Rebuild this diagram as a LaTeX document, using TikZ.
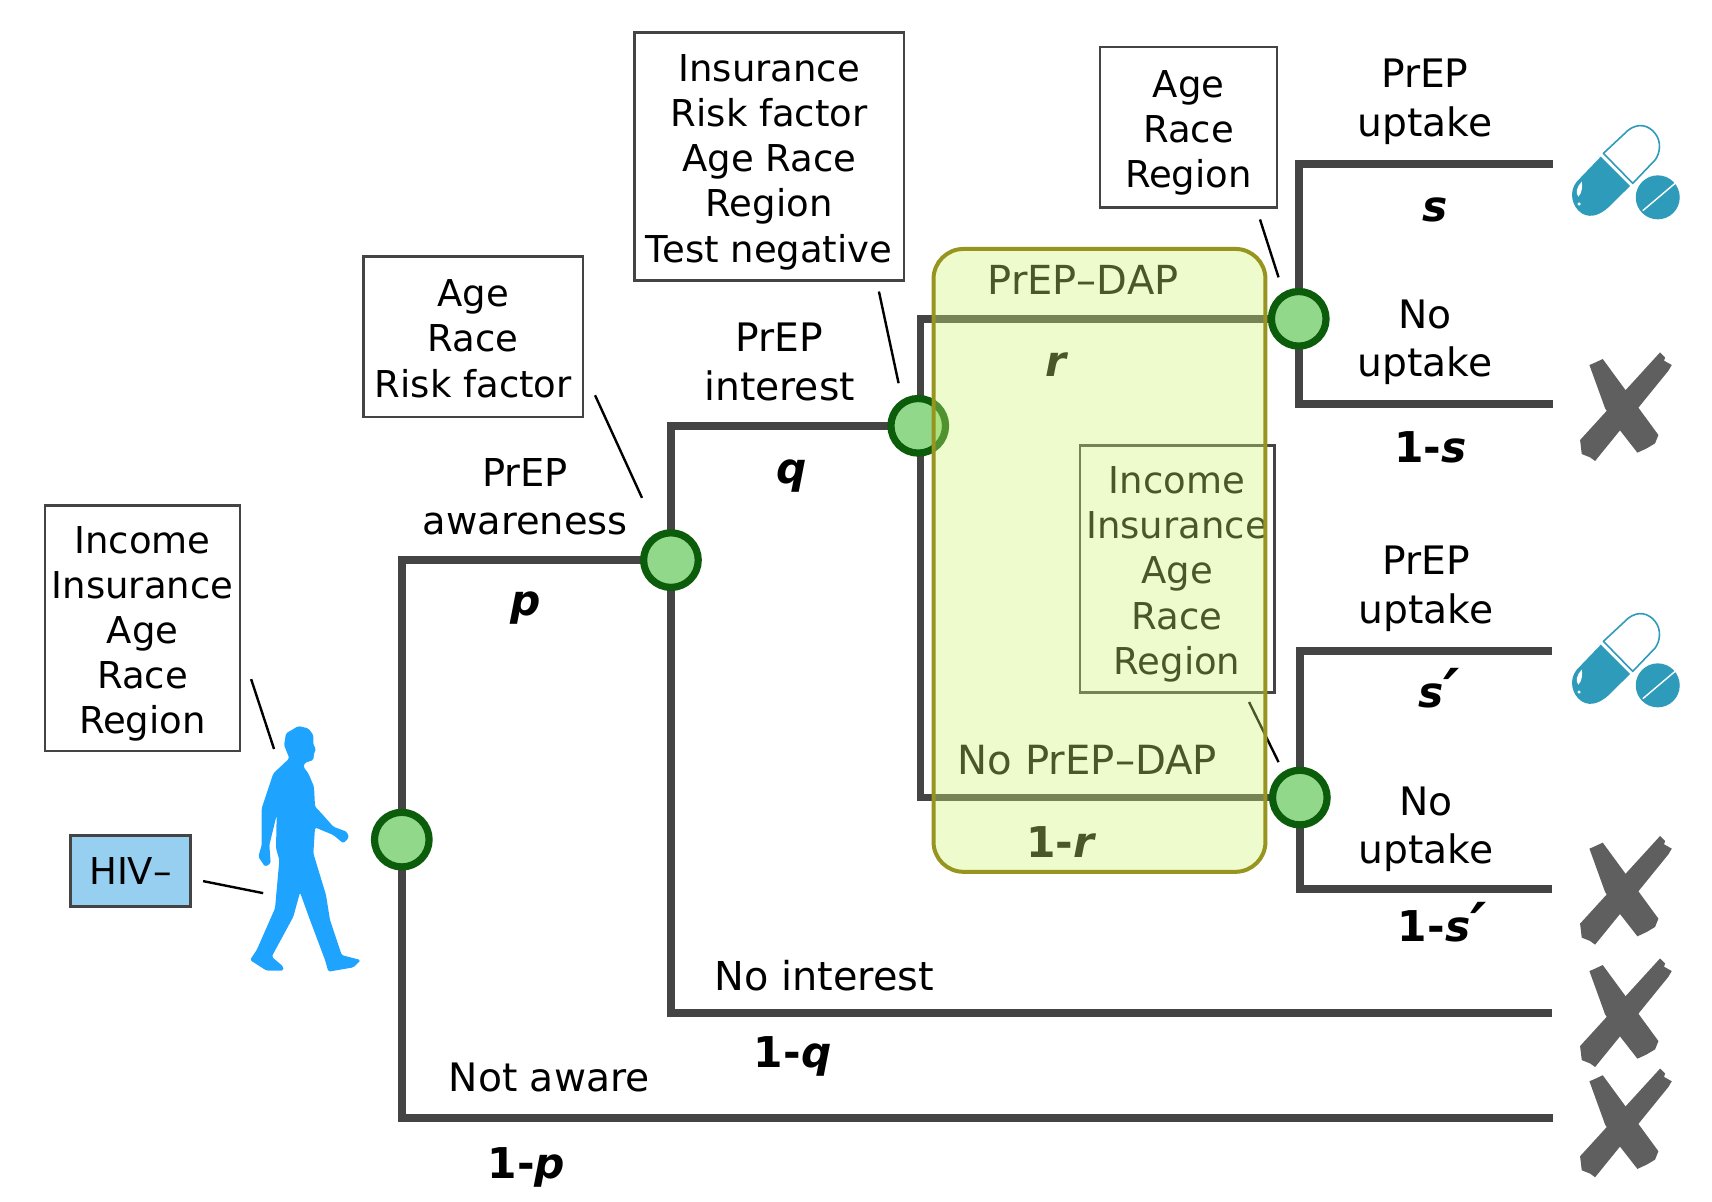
\documentclass[tikz,border=0pt]{standalone}
\usepackage{fontspec}
\setmainfont{DejaVu Sans}
\usetikzlibrary{backgrounds}
\pgfdeclarelayer{front}
\pgfsetlayers{background,main,front}
\definecolor{branchc}{HTML}{444444}
\definecolor{ringc}{HTML}{0B5C0B}
\definecolor{chancec}{HTML}{92D88A}
\definecolor{manc}{HTML}{1EA4FF}
\definecolor{pillc}{HTML}{2E9BBB}
\definecolor{crossc}{HTML}{5F5F5F}
\definecolor{hivc}{HTML}{96CFF0}
\definecolor{dapfill}{RGB}{207,244,115}
\definecolor{dapline}{HTML}{97951F}
\newcommand{\firstline}{\rule{0pt}{18.9pt}}
\newcommand{\primemark}{\raisebox{-3.2pt}{\fontsize{31}{24}\selectfont ′}}
\tikzset{
  branch/.style={draw=branchc,line width=3.8pt,miter limit=10},
  chance/.style={circle,draw=ringc,fill=chancec,line width=3.6pt,minimum size=27.3pt,inner sep=0pt},
  factors/.style={draw=branchc,line width=1.3pt,align=center,inner sep=0pt,font=\fontsize{18.5}{22.6}\selectfont},
  callout/.style={draw=black,line width=1.2pt},
  lab/.style={align=center,inner sep=0pt,font=\fontsize{19.6}{24.3}\selectfont},
  prob/.style={inner sep=0pt,font=\fontsize{21.2}{24}\selectfont\bfseries},
}
\newcommand{\drawpill}[1]{%
  \begin{scope}[xshift=640pt,yshift=-50pt-#1,x=.16667pt,y=-.16667pt]
    \fill[pillc] (962,170) -- (890,245) .. controls (865,275) and (875,320) .. (905,340)
      .. controls (935,358) and (965,340) .. (985,322) -- (1050,258) -- cycle;
    \draw[pillc,line width=.8pt,line join=round] (970,160) -- (1045,90)
      .. controls (1075,68) and (1105,75) .. (1125,100)
      .. controls (1145,125) and (1140,160) .. (1125,180) -- (1058,250) -- cycle;
    \fill[pillc] (1133,292) circle [radius=66];
    \draw[white,line width=.7pt] (1088,332) -- (1185,250);
    \fill[white] (905,245) .. controls (890,260) and (885,280) .. (895,290) .. controls (905,280) and (908,260) .. (905,245) -- cycle;
    \fill[white] (897,312) circle [radius=5];
  \end{scope}}
\newcommand{\drawcross}[1]{%
  \begin{scope}[xshift=640pt,yshift=-50pt-#1,x=.16667pt,y=-.16667pt]
    \fill[crossc] (1140,757) -- (1155,772) -- (1152,782) -- (1175,795) -- (1165,812) -- (945,1083)
      -- (930,1072) -- (905,1062) -- (900,1020) -- cycle;
    \fill[crossc] (928,795) -- (940,790) -- (968,777) -- (1135,1005) -- (1125,1030) -- (1100,1045)
      -- (1072,1058) -- (1015,985) -- (975,925) -- cycle;
  \end{scope}}
\begin{document}
\begin{tikzpicture}[x=0.5459pt,y=-0.5459pt]
\useasboundingbox (0,0) rectangle (1568,1100.9);

% chance nodes
\node[chance] (n1) at (368,769) {};
\node[chance] (n2) at (614.5,513) {};
\node[chance] (n3) at (841,390) {};
\node[chance] (n4) at (1189.5,292) {};
\node[chance] (n5) at (1190.5,730.5) {};

% free ends of branches
\coordinate (eS)  at (1422,150);
\coordinate (eNS) at (1422,370);
\coordinate (eSp) at (1421,596);
\coordinate (eNSp) at (1421,814);
\coordinate (eNI) at (1421,928);
\coordinate (eNA) at (1422,1024);

\begin{pgfonlayer}{background}
  \draw[branch] (n1.center) |- (n2.center);
  \draw[branch] (n1.center) |- (eNA);
  \draw[branch] (n2.center) |- (n3.center);
  \draw[branch] (n2.center) |- (eNI);
  \draw[branch] ([xshift=1.2pt]n3.center) |- (n4.center);
  \draw[branch] ([xshift=1.2pt]n3.center) |- (n5.center);
  \draw[branch] (n4.center) |- (eS);
  \draw[branch] (n4.center) |- (eNS);
  \draw[branch] (n5.center) |- (eSp);
  \draw[branch] (n5.center) |- (eNSp);
\end{pgfonlayer}

% attribute boxes
\node[factors,minimum width=97.4pt,minimum height=122.8pt] (bIncome) at (130.5,575.5)
  {\firstline Income\\Insurance\\Age\\Race\\Region};
\node[factors,fill=hivc,line width=1.5pt,minimum width=60.2pt,minimum height=35.5pt] (bHIV) at (119.5,797.5) {HIV–};
\node[factors,minimum width=109.7pt,minimum height=80.2pt] (bAware) at (433.5,308.5)
  {\rule{0pt}{15.4pt}Age\\Race\\Risk factor};
\node[factors,minimum width=134.8pt,minimum height=123.9pt] (bInterest) at (704.5,143.5)
  {\firstline Insurance\\Risk factor\\Age Race\\Region\\Test negative};
\node[factors,minimum width=88.6pt,minimum height=80.2pt] (bUptake) at (1088.5,116.5)
  {\firstline Age\\Race\\Region};
\node[factors,minimum width=97.2pt,minimum height=123.4pt] (bDAP) at (1078,521)
  {\firstline Income\\Insurance\\Age\\Race\\Region};

% callouts
\coordinate (c1a) at (251,686); \coordinate (c1b) at (230,622);
\coordinate (c2a) at (241,818); \coordinate (c2b) at (186,807);
\coordinate (c3a) at (588,456); \coordinate (c3b) at (545,362);
\coordinate (c4a) at (823,351); \coordinate (c4b) at (805,267);
\coordinate (c5a) at (1171,254); \coordinate (c5b) at (1154,201);
\coordinate (c6a) at (1171,698); \coordinate (c6b) at (1144,643);
\draw[callout] (c1b) -- (c1a);
\draw[callout] (c2b) -- (c2a);
\draw[callout] (c3b) -- (c3a);
\draw[callout] (c4b) -- (c4a);
\draw[callout] (c5b) -- (c5a);
\draw[callout] (c6b) -- (c6a);

% labels
\node[lab,font=\fontsize{19.2}{24.3}\selectfont] (tAware) at (481,455) {PrEP\\awareness};
\node[lab] (tInterest) at (714,331.5) {PrEP\\interest};
\node[lab] (tU1) at (1305,93.5) {PrEP\\uptake};
\node[lab] (tN1) at (1305,313.5) {No\\uptake};
\node[lab] (tU2) at (1306,539.5) {PrEP\\uptake};
\node[lab] (tN2) at (1306,759.5) {No\\uptake};
\node[lab,font=\fontsize{19.9}{24.3}\selectfont] (tNI) at (755,894) {No interest};
\node[lab] (tNA) at (503,987) {Not aware};
\node[lab,font=\fontsize{20}{24.3}\selectfont] (tDAP) at (992,256) {PrEP–DAP};
\node[lab,font=\fontsize{20.1}{24.3}\selectfont] (tNoDAP) at (996,696) {No PrEP–DAP};

\node[prob] (pP) at (481,557) {\itshape p};
\node[prob] (pQ) at (725,436) {\itshape q};
\node[prob] (pR) at (967,334) {\itshape r};
\node[prob] (pNR) at (971,771) {1-\itshape r};
\node[prob] (pS) at (1314,192) {\itshape s};
\node[prob] (pNS) at (1310,410) {1-\itshape s};
\node[prob,anchor=base west] (pSp) at (1299,648) {\itshape s\primemark};
\node[prob,anchor=base west] (pNSp) at (1280,862) {1-\itshape s\primemark};
\node[prob] (pNQ) at (726,968) {1-\itshape q};
\node[prob] (pNP) at (482,1069) {1-\itshape p};

% walking person
\begin{scope}[yshift=-240pt,x=.16667pt,y=-.16667pt]
  \fill[manc,rounded corners=.8pt] (868,835) -- (852,795) -- (858,760) -- (895,738) -- (925,745) -- (940,765)
    -- (940,795) -- (948,806) -- (942,820) -- (940,840) -- (915,848) -- (910,860) -- (925,880) -- (942,920)
    -- (945,980) -- (960,995) -- (1000,1040) -- (1040,1055) -- (1047,1072) -- (1030,1090) -- (1000,1065)
    -- (945,1042) -- (940,1120) -- (978,1245) -- (990,1320) -- (1025,1425) -- (1082,1440) -- (1060,1462)
    -- (985,1475) -- (975,1440) -- (930,1320) -- (900,1237) -- (880,1310) -- (815,1430) -- (850,1460)
    -- (850,1472) -- (800,1472) -- (750,1440) -- (770,1410) -- (825,1285) -- (838,1140) -- (828,1105)
    -- (830,1005) -- (808,1095) -- (812,1150) -- (795,1160) -- (775,1130) -- (785,1095) -- (785,985)
    -- (820,880) -- cycle;
\end{scope}

% pills and crosses
\drawpill{0pt}
\drawpill{244pt}
\drawcross{0pt}
\drawcross{241.8pt}
\drawcross{303pt}
\drawcross{358.1pt}

% PrEP-DAP overlay
\begin{pgfonlayer}{front}
  \fill[dapfill,fill opacity=.36,rounded corners=15pt] (855,228) rectangle (1159,798.5);
  \draw[dapline,line width=2pt,rounded corners=15pt] (855,228) rectangle (1159,798.5);
\end{pgfonlayer}
\end{tikzpicture}
\end{document}
